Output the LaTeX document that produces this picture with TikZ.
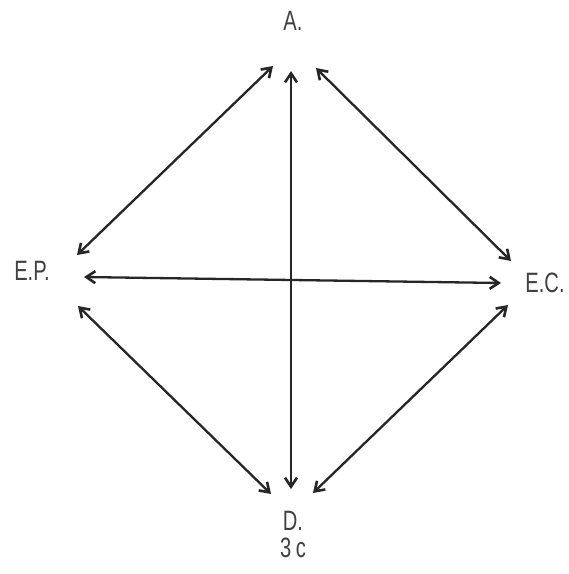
\documentclass[tikz,border=0pt]{standalone}
\usepackage{fontspec}
\setmainfont{Liberation Sans}[FakeStretch=0.72]
\usetikzlibrary{arrows.meta}
\begin{document}
\begin{tikzpicture}[x=1pt,y=-1pt,
  lab/.style={font=\fontsize{28}{30}\selectfont, text=black!75, inner sep=0pt},
  link/.style={line width=2.3pt, black!85, {Straight Barb[length=9pt,width=12pt,line width=2.6pt]}-{Straight Barb[length=9pt,width=12pt,line width=2.6pt]}}]
\useasboundingbox[fill=white] (0,0) rectangle (569,574);
\node[lab] (A) at (293,21) {A.};
\node[lab] (EP) at (32,271) {E.P.};
\node[lab] (EC) at (545,283) {E.C.};
\node[lab] (D) at (293,521) {D.};
\node[lab] (C) at (293,548) {3\,c};
\coordinate (a1) at (273,66);
\coordinate (p1) at (77,255);
\coordinate (a2) at (316,68);
\coordinate (c1) at (511,261);
\coordinate (a3) at (291,71);
\coordinate (d3) at (291,489);
\coordinate (p2) at (84,277);
\coordinate (c2) at (501,283);
\coordinate (p3) at (78,306);
\coordinate (d1) at (271,494);
\coordinate (c3) at (508,305);
\coordinate (d2) at (313,493);
\draw[link] (a1) -- (p1);
\draw[link] (a2) -- (c1);
\draw[link] (a3) -- (d3);
\draw[link] (p2) -- (c2);
\draw[link] (p3) -- (d1);
\draw[link] (c3) -- (d2);
\end{tikzpicture}
\end{document}
